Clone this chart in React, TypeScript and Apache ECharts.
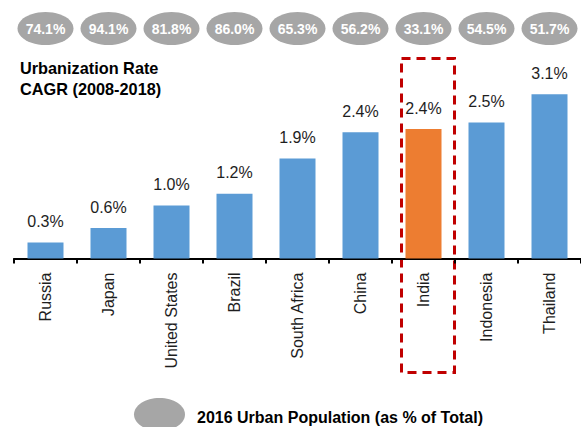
import React, { useEffect, useRef } from "react";
import * as echarts from "echarts";

const countries = ["Russia", "Japan", "United States", "Brazil", "South Africa", "China", "India", "Indonesia", "Thailand"];
const cagr = [0.30, 0.57, 0.99, 1.21, 1.87, 2.36, 2.42, 2.54, 3.07];
const urbanPop = [74.1, 94.1, 81.8, 86.0, 65.3, 56.2, 33.1, 54.5, 51.7];
const highlight = "India";
const titleLines = ["Urbanization Rate", "CAGR (2008-2018)"];
const legendText = "2016 Urban Population (as % of Total)";

const FONT = '"Liberation Sans", Arial, sans-serif';

export default function App() {
  const ref = useRef<HTMLDivElement>(null);
  useEffect(() => {
    if (!ref.current) return;
    const chart = echarts.init(ref.current, undefined, { renderer: "svg" });
    chart.setOption({
      animation: false,
      backgroundColor: "#ffffff",
      textStyle: { fontFamily: FONT },
      grid: [
        { left: 14, top: 44.5, width: 576, height: 214, containLabel: false },
        { left: 14, top: 12, width: 576, height: 33, containLabel: false },
      ],
      xAxis: [
        {
          type: "category",
          gridIndex: 0,
          data: countries,
          axisLine: { lineStyle: { color: "#000000", width: 2 } },
          axisTick: { show: true, length: 5, lineStyle: { color: "#000000", width: 2 } },
          axisLabel: { rotate: 90, margin: 14, fontSize: 16, color: "#1e1e1e", fontFamily: FONT, interval: 0 },
        },
        { type: "category", gridIndex: 1, data: countries, show: false },
      ],
      yAxis: [
        { type: "value", gridIndex: 0, min: 0, max: 4, show: false, splitLine: { show: false } },
        { type: "value", gridIndex: 1, min: 0, max: 1, show: false, splitLine: { show: false } },
      ],
      series: [
        {
          type: "bar",
          xAxisIndex: 0,
          yAxisIndex: 0,
          barWidth: 36,
          data: cagr.map((v, i) => ({
            value: v,
            itemStyle: { color: countries[i] === highlight ? "#ED7D31" : "#5B9BD5" },
          })),
          label: {
            show: true,
            position: "top",
            distance: 13,
            fontSize: 16,
            color: "#1e1e1e",
            fontFamily: FONT,
            formatter: (p: any) => p.value.toFixed(1) + "%",
          },
        },
        {
          type: "scatter",
          xAxisIndex: 1,
          yAxisIndex: 1,
          clip: false,
          symbol: "circle",
          symbolSize: [56, 33],
          itemStyle: { color: "#A6A6A6", opacity: 1 },
          data: urbanPop.map((p, i) => [countries[i], 0.5, p]),
          label: {
            show: true,
            position: "inside",
            color: "#ffffff",
            fontWeight: "bold",
            fontSize: 14,
            fontFamily: FONT,
            formatter: (p: any) => p.value[2].toFixed(1) + "%",
          },
        },
      ],
      graphic: [
        {
          type: "text",
          x: 20,
          y: 67.5,
          style: { text: titleLines[0], font: `bold 16.3px ${FONT}`, fill: "#000000", verticalAlign: "middle", align: "left" },
        },
        {
          type: "text",
          x: 20,
          y: 88.5,
          style: { text: titleLines[1], font: `bold 16.3px ${FONT}`, fill: "#000000", verticalAlign: "middle", align: "left" },
        },
        {
          type: "rect",
          shape: { x: 401.5, y: 58.5, width: 53, height: 314 },
          style: { fill: "none", stroke: "#C00000", lineWidth: 3, lineDash: [9, 6] },
        },
        {
          type: "ellipse",
          shape: { cx: 159.5, cy: 414.5, rx: 25.5, ry: 16.5 },
          style: { fill: "#A6A6A6" },
        },
        {
          type: "text",
          x: 197,
          y: 417,
          style: { text: legendText, font: `bold 16px ${FONT}`, fill: "#000000", verticalAlign: "middle", align: "left" },
        },
      ],
    });
    return () => chart.dispose();
  }, []);
  return <div ref={ref} style={{ position: "absolute", left: 0, top: 0, width: 581, height: 427 }} />;
}
